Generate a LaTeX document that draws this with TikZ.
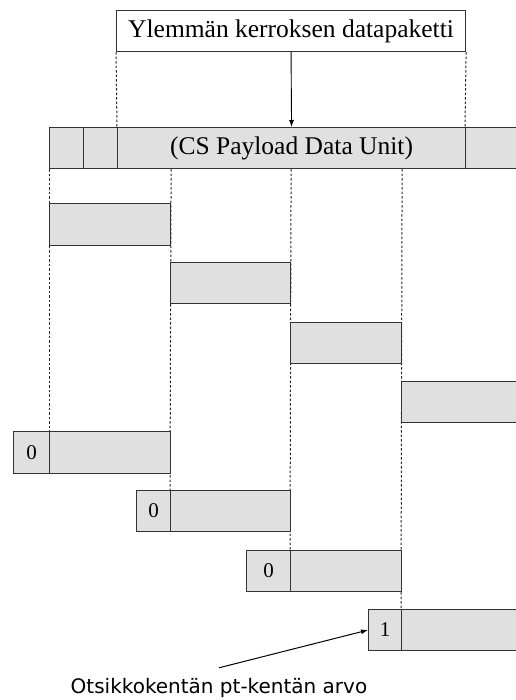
\documentclass[tikz,border=0pt]{standalone}
\usepackage{fontspec}
\setmainfont{Liberation Serif}
\newfontfamily\notefont{DejaVu Sans}
\usetikzlibrary{backgrounds,arrows.meta}

\begin{document}
\begin{tikzpicture}[>={Latex[length=7pt,width=5pt]}, x=1pt, y=-1pt,
    cell/.style={draw=black!80, line width=1.1pt, fill=gray!24, inner sep=0pt,
                 anchor=north west, minimum height=41pt},
    hdr/.style={cell, font=\fontsize{21}{24}\selectfont},
    guide/.style={black!85, line width=1pt, dash pattern=on 2.5pt off 2pt}]

    \useasboundingbox (0,0) rectangle (515,700);

    % upper layer packet and the CS-PDU
    \node[cell, fill=white, minimum width=349pt, font=\fontsize{25.5}{30}\selectfont] (upper) at (116,10) {Ylemmän kerroksen datapaketti};
    \node[cell, minimum width=34pt] (trl1) at (49,127) {};
    \node[cell, minimum width=34pt] (trl2) at (83,127) {};
    \node[cell, minimum width=348pt, font=\fontsize{25.5}{30}\selectfont] (pdu) at (117,127) {(CS Payload Data Unit)};
    \node[cell, minimum width=60pt] (pad) at (465,127) {};

    % segments
    \node[cell, minimum width=121pt, minimum height=42pt] (seg1) at (49,203) {};
    \node[cell, minimum width=120pt] (seg2) at (170,262) {};
    \node[cell, minimum width=111pt] (seg3) at (290,322) {};
    \node[cell, minimum width=120pt] (seg4) at (401,381) {};

    % segments with the pt header field
    \node[hdr, minimum width=36pt, minimum height=42pt] (pt1) at (13,431) {0};
    \node[cell, minimum width=121pt, minimum height=42pt] (sdu1) at (49,431) {};
    \node[hdr, minimum width=34pt] (pt2) at (136,490) {0};
    \node[cell, minimum width=120pt] (sdu2) at (170,490) {};
    \node[hdr, minimum width=44pt] (pt3) at (246,550) {0};
    \node[cell, minimum width=111pt] (sdu3) at (290,550) {};
    \node[hdr, minimum width=33pt] (pt4) at (368,609) {1};
    \node[cell, minimum width=130pt] (sdu4) at (401,609) {};

    \begin{pgfonlayer}{background}
        \draw[guide] (upper.south west) -- (pdu.north west);
        \draw[guide] (upper.south east) -- (pad.north west);
        \draw[guide] (trl1.south west) -- (sdu1.north west);
        \draw[guide] (seg1.north east |- pdu.south) -- (sdu2.north west);
        \draw[guide] (seg2.north east |- pdu.south) -- (sdu3.north west);
        \draw[guide] (seg3.north east |- pdu.south) -- (sdu4.north west);
    \end{pgfonlayer}

    \draw[->, line width=0.9pt] (upper.south) -- (pdu.north);

    \node[font=\notefont\fontsize{20}{24}\selectfont] (note) at (219,688) {Otsikkokentän pt-kentän arvo};
    \draw[->, line width=1pt] ([yshift=7pt]note.north) -- (pt4.west);

\end{tikzpicture}
\end{document}
